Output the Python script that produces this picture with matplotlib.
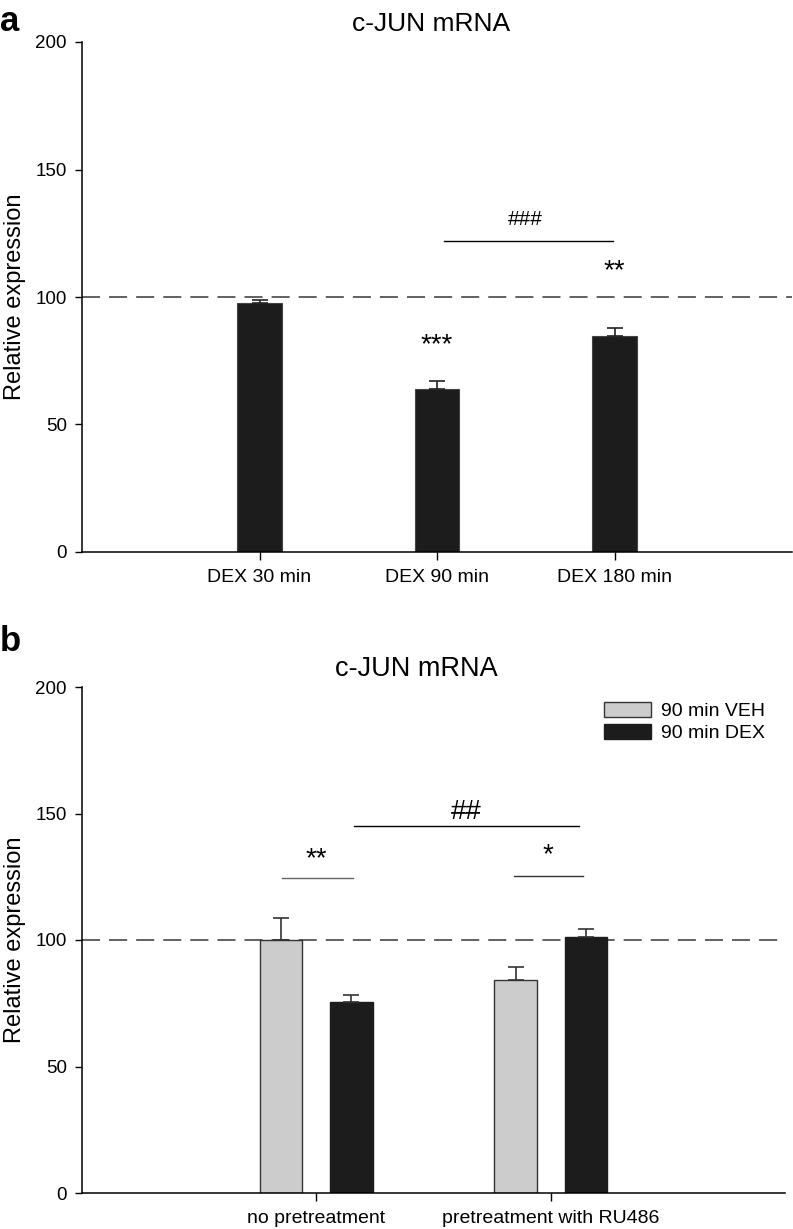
import matplotlib
matplotlib.use("Agg")
import matplotlib.pyplot as plt
from matplotlib.patches import Patch
import numpy as np

plt.rcParams['font.family'] = ['Liberation Sans', 'DejaVu Sans']

# panel a data
a_labels = ["DEX 30 min", "DEX 90 min", "DEX 180 min"]
a_values = [97.8, 63.8, 84.6]
a_errors = [0.9, 3.4, 3.4]

# panel b data
b_groups = ["no pretreatment", "pretreatment with RU486"]
b_series = ["90 min VEH", "90 min DEX"]
b_veh = [100.0, 84.1]
b_veh_err = [8.8, 5.2]
b_dex = [75.3, 101.1]
b_dex_err = [2.9, 3.2]

dark = "#1c1c1c"
light = "#cccccc"
dash_col = "#555555"

fig = plt.figure(figsize=(7.93, 12.29), dpi=100)
W, H = 793.0, 1229.0


def px_axes(l, t, r, b):
    return fig.add_axes([l / W, 1 - b / H, (r - l) / W, (b - t) / H])


def style(ax):
    for s in ["top", "right"]:
        ax.spines[s].set_visible(False)
    for s in ["left", "bottom"]:
        ax.spines[s].set_linewidth(1.1)
    ax.set_ylim(0, 200)
    ax.set_yticks([0, 50, 100, 150, 200])
    ax.tick_params(axis="y", direction="out", length=5, width=1.0, labelsize=13.5, pad=6)
    ax.tick_params(axis="x", direction="out", length=5.5, width=1.0, labelsize=14, pad=7)
    ax.set_ylabel("Relative expression", fontsize=17, labelpad=7)
    ax.axhline(100, color=dash_col, lw=1.3, ls=(0, (10, 5)), zorder=1)


# ---- panel a ----
ax1 = px_axes(82, 42, 792, 552)
style(ax1)
xa = np.arange(1, len(a_values) + 1)
ax1.bar(xa, a_values, width=0.25, color=dark, edgecolor="#444444", lw=0.8, zorder=2,
        yerr=[np.zeros(len(a_errors)), a_errors], capsize=6,
        error_kw=dict(ecolor="#222222", elinewidth=1.2, capthick=1.2))
ax1.set_xlim(0, 4)
ax1.set_xticks(xa)
ax1.set_xticklabels(a_labels)
ax1.set_title("c-JUN mRNA", fontsize=19, pad=8, x=0.492)
ax1.text(2, 81, "***", ha="center", va="center", fontsize=20)
ax1.text(3, 110, "**", ha="center", va="center", fontsize=20)
ax1.plot([2.04, 2.99], [121.8, 121.8], color="black", lw=1.0)
ax1.text(2.5, 130.5, "###", ha="center", va="center", fontsize=15)
fig.text(0 / W, 1 - 5 / H, "a", fontsize=25, fontweight="bold", va="top", ha="left")

# ---- panel b ----
ax2 = px_axes(82, 687, 785, 1193)
style(ax2)
xb = np.arange(1, len(b_groups) + 1)
off = 0.15
ax2.bar(xb - off, b_veh, width=0.18, color=light, edgecolor="#333333", lw=1.0, zorder=2,
        yerr=[np.zeros(2), b_veh_err], capsize=6,
        error_kw=dict(ecolor="#333333", elinewidth=1.2, capthick=1.2), label=b_series[0])
ax2.bar(xb + off, b_dex, width=0.18, color=dark, edgecolor=dark, lw=1.0, zorder=2,
        yerr=[np.zeros(2), b_dex_err], capsize=6,
        error_kw=dict(ecolor="#333333", elinewidth=1.2, capthick=1.2), label=b_series[1])
ax2.set_xlim(0, 3)
ax2.set_xticks(xb)
ax2.set_xticklabels(b_groups)
ax2.set_title("c-JUN mRNA", fontsize=19.5, pad=8, x=0.475)

ax2.plot([0.855, 1.155], [124.4, 124.4], color="#666666", lw=1.0)
ax2.text(1.0, 132, "**", ha="center", va="center", fontsize=20)
ax2.plot([1.845, 2.14], [125.4, 125.4], color="#333333", lw=1.0)
ax2.text(1.99, 133.5, "*", ha="center", va="center", fontsize=20)
ax2.plot([1.16, 2.12], [144.9, 144.9], color="black", lw=1.0)
ax2.text(1.64, 150.5, "##", ha="center", va="center", fontsize=20)

handles = [Patch(facecolor=light, edgecolor="#333333", lw=1.0),
           Patch(facecolor=dark, edgecolor=dark, lw=1.0)]
fig.legend(handles, b_series, loc="upper left", bbox_to_anchor=(604 / W, 1 - 702 / H),
           frameon=False, fontsize=14, handlelength=2.4, handleheight=0.8,
           handletextpad=0.55, labelspacing=0.2, borderpad=0, borderaxespad=0)
fig.text(0 / W, 1 - 625 / H, "b", fontsize=25, fontweight="bold", va="top", ha="left")

fig.savefig("out.png", dpi=100)
